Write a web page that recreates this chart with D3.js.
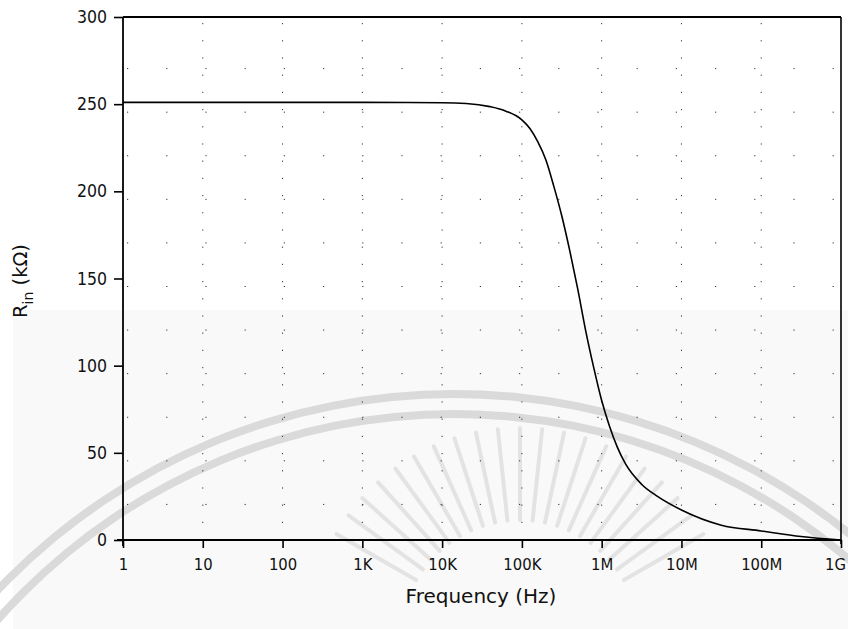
<!DOCTYPE html>
<html>
<head>
<meta charset="utf-8">
<script src="https://cdn.jsdelivr.net/npm/d3@7"></script>
<style>
  html, body { margin: 0; padding: 0; background: #fff; }
  svg { display: block; }
  .tick text, .lbl { font-family: "DejaVu Sans Condensed", "DejaVu Sans", sans-serif; font-stretch: condensed; fill: #111; }
  .title { font-family: "DejaVu Sans", sans-serif; fill: #111; }
</style>
</head>
<body>
<svg id="chart" width="848" height="629"></svg>
<script>
// Input resistance versus frequency
const freqHz = [1, 10, 100, 1e3, 1e4, 2.0e4, 3.98e4, 6.31e4, 1e5, 1.26e5, 1.58e5,
  2.0e5, 2.51e5, 3.16e5, 3.98e5, 5.01e5, 6.31e5, 7.94e5, 1e6, 1.26e6, 1.58e6,
  2.0e6, 3.16e6, 5.01e6, 1e7, 3.16e7, 1e8, 3.16e8, 1e9];
const rinKOhm = [251, 251, 251, 251, 250.8, 250.4, 248.6, 246, 241, 236, 228.5,
  218, 203, 186, 166, 144, 120, 99, 80, 65, 53,
  43.5, 32, 25, 17.2, 8.5, 5.2, 2, 0];

const xTickValues = [1, 10, 100, 1e3, 1e4, 1e5, 1e6, 1e7, 1e8, 1e9];
const xTickLabels = ["1", "10", "100", "1K", "10K", "100K", "1M", "10M", "100M", "1G"];
const yTickValues = [0, 50, 100, 150, 200, 250, 300];

const svg = d3.select("#chart");
const W = 848, H = 629;
const plotL = 123, plotR = 841, plotT = 17, plotB = 540;

const x = d3.scaleLog().domain([1, 1e9]).range([plotL, plotR]);
const y = d3.scaleLinear().domain([0, 300]).range([plotB, plotT]);

// faint backdrop and seal in the lower half
const wm = svg.append("g").attr("class", "watermark");
wm.append("rect").attr("x", 13).attr("y", 310).attr("width", W - 13).attr("height", H - 310)
  .attr("fill", "#f9f9f9");
const ringX = 454, ringY = 1023;
const arcGen = d3.arc().startAngle(-Math.PI / 2).endAngle(Math.PI / 2);
[[625, 633], [605, 613]].forEach(([r0, r1]) => {
  wm.append("path").attr("transform", `translate(${ringX},${ringY})`)
    .attr("d", arcGen({ innerRadius: r0, outerRadius: r1 }))
    .attr("fill", "#dadada");
});
const sunX = 520, sunY = 640;
d3.range(-60, 61, 6).forEach(deg => {
  const a = deg * Math.PI / 180;
  wm.append("line")
    .attr("x1", sunX + 120 * Math.sin(a)).attr("y1", sunY - 120 * Math.cos(a))
    .attr("x2", sunX + 212 * Math.sin(a)).attr("y2", sunY - 212 * Math.cos(a))
    .attr("stroke", "#e3e3e3").attr("stroke-width", 4).attr("stroke-linecap", "round");
});

// sparse dotted grid
const grid = svg.append("g").attr("class", "grid");
grid.selectAll("line.v").data(xTickValues.slice(1, -1)).join("line")
  .attr("class", "v")
  .attr("x1", d => x(d)).attr("x2", d => x(d))
  .attr("y1", plotT + 6).attr("y2", plotB - 4)
  .attr("stroke", "#333").attr("stroke-width", 1)
  .attr("stroke-dasharray", "1.2,16");
grid.selectAll("line.h").data([25, 75, 125, 175, 225, 275, 50, 100, 150, 200, 250]).join("line")
  .attr("class", "h")
  .attr("x1", plotL + 4).attr("x2", plotR - 4)
  .attr("y1", d => y(d) + 8).attr("y2", d => y(d) + 8)
  .attr("stroke", "#333").attr("stroke-width", 1)
  .attr("stroke-dasharray", "1.2,38");

// frame
svg.append("line").attr("x1", plotL).attr("x2", plotR).attr("y1", plotT).attr("y2", plotT)
  .attr("stroke", "#000").attr("stroke-width", 2);
svg.append("line").attr("x1", plotR).attr("x2", plotR).attr("y1", plotT).attr("y2", plotB + 4)
  .attr("stroke", "#000").attr("stroke-width", 1.6);

// axes
const xAxis = d3.axisBottom(x).tickValues(xTickValues)
  .tickFormat((d, i) => xTickLabels[i]).tickSize(8).tickPadding(10);
const gx = svg.append("g").attr("transform", `translate(0,${plotB})`).call(xAxis);
gx.select(".domain").attr("stroke-width", 1.8).attr("d", `M${plotL - 6},0H${plotR}`);
gx.selectAll(".tick line").attr("stroke-width", 1.6);
gx.selectAll(".tick text").attr("font-size", 16.5).attr("font-family", null).attr("fill", null)
  .attr("dx", (d, i) => i === xTickValues.length - 1 ? -6 : 0);

const yAxis = d3.axisLeft(y).tickValues(yTickValues).tickSize(9).tickPadding(7);
const gy = svg.append("g").attr("transform", `translate(${plotL},0)`).call(yAxis);
gy.select(".domain").attr("stroke-width", 1.8).attr("d", `M0,${plotT}V${plotB + 6}`);
gy.selectAll(".tick line").attr("stroke-width", 1.6);
gy.selectAll(".tick text").attr("font-size", 17.5).attr("font-family", null).attr("fill", null);

// curve
const line = d3.line()
  .x((d, i) => x(freqHz[i]))
  .y(d => y(d))
  .curve(d3.curveMonotoneX);
svg.append("path").datum(rinKOhm)
  .attr("d", line)
  .attr("fill", "none").attr("stroke", "#000").attr("stroke-width", 1.6);

// axis titles
svg.append("text").attr("class", "title").attr("x", 481).attr("y", 603).attr("text-anchor", "middle")
  .attr("font-size", 20)
  .text("Frequency (Hz)");

const yt = svg.append("text").attr("class", "title")
  .attr("transform", "translate(27,281) rotate(-90)")
  .attr("text-anchor", "middle")
  .attr("font-size", 19.5);
yt.append("tspan").text("R");
yt.append("tspan").attr("font-size", 14).attr("dy", 6).text("in");
yt.append("tspan").attr("dy", -6).text(" (kΩ)");
</script>
</body>
</html>
